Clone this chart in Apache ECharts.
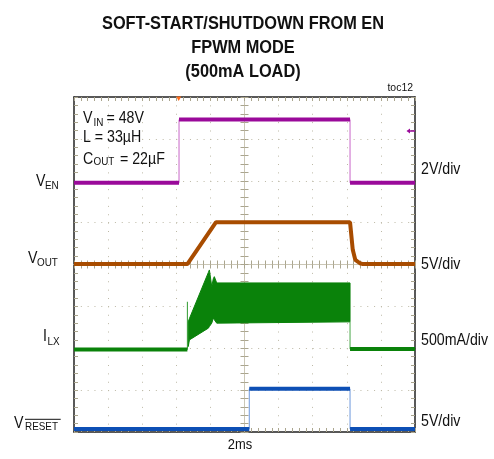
<!DOCTYPE html>
<html>
<head>
    <meta charset="UTF-8">
    <title>Soft-start/shutdown from EN</title>
    <script src="https://cdn.jsdelivr.net/npm/echarts@6/dist/echarts.min.js"></script>
    <style>
        body { margin: 0; padding: 0; background: #fff; }
        #chart { width: 494px; height: 459px; }
    </style>
</head>
<body>
<div id="chart"></div>
<script>
    // time in ms (2ms/div, 10 div), level in divisions (8 div)
    var enT = [0, 6.16, 6.16, 16.19, 16.19, 20];
    var enV = [5.95, 5.95, 7.46, 7.46, 5.95, 5.95];

    var outT = [0, 6.65, 8.33, 16.19, 16.35, 16.50, 16.77, 16.95, 20];
    var outV = [4.01, 4.01, 5.01, 5.01, 4.35, 4.11, 4.03, 4.01, 4.01];

    var resetT = [0, 10.28, 10.28, 16.19, 16.19, 20];
    var resetV = [0.07, 0.07, 1.03, 1.03, 0.07, 0.07];

    // inductor current: idle level, start spike, switching envelope, shutdown
    var ilxStartT = [0, 6.65, 6.65];
    var ilxStartV = [1.97, 1.97, 3.11];
    var ilxBandT = [6.70, 6.77, 7.88, 7.94, 8.08, 8.17, 8.23, 8.37, 16.19];
    var ilxBandHi = [2.63, 2.71, 3.81, 3.87, 3.47, 3.66, 3.71, 3.56, 3.56];
    var ilxBandLo = [2.04, 2.20, 2.48, 2.52, 2.60, 2.72, 2.68, 2.60, 2.63];
    var ilxEndT = [16.19, 16.19, 20];
    var ilxEndV = [2.63, 1.98, 1.98];

    var chart = echarts.init(document.getElementById('chart'));

    function pts(ts, vs) {
        return ts.map(function (t, i) { return [t, vs[i]]; });
    }
    // same trace but with the vertical edges left out (they are drawn thin)
    function flats(ts, vs) {
        var out = [];
        for (var i = 0; i < ts.length; i++) {
            if (i > 0 && ts[i] === ts[i - 1]) out.push([ts[i], null]);
            out.push([ts[i], vs[i]]);
        }
        return out;
    }
    function trace(ts, vs, color, edge) {
        return [
            {type: 'line', data: pts(ts, vs), symbol: 'none', lineStyle: {color: edge, width: 1}, z: 3},
            {type: 'line', data: flats(ts, vs), symbol: 'none', lineStyle: {color: color, width: 4}, z: 4}
        ];
    }

    var FONT = '"Liberation Sans", Arial, sans-serif';
    var tickCol = '#aaa58e';

    function frameX(pos, split) {
        return {
            type: 'value', gridIndex: 0, min: 0, max: 20, interval: 2, position: pos,
            axisLine: {show: true, onZero: false, lineStyle: {color: '#222', width: 1.5}},
            axisTick: {show: true, inside: true, length: 4, lineStyle: {color: tickCol}},
            minorTick: {show: true, splitNumber: 5, length: 4, lineStyle: {color: tickCol}},
            axisLabel: {show: false},
            splitLine: {show: split, lineStyle: {color: '#bdb9a6', width: 1, type: [1, 7.375]}}
        };
    }
    function frameY(pos, split) {
        return {
            type: 'value', gridIndex: 0, min: 0, max: 8, interval: 1, position: pos,
            axisLine: {show: true, onZero: false, lineStyle: {color: '#222', width: 1.5}},
            axisTick: {show: true, inside: true, length: 4, lineStyle: {color: tickCol}},
            minorTick: {show: true, splitNumber: 5, length: 4, lineStyle: {color: tickCol}},
            axisLabel: {show: false},
            splitLine: {show: split, lineStyle: {color: '#bdb9a6', width: 1, type: [1, 5.82]}}
        };
    }
    function centerX(grid, inside) {
        return {
            type: 'value', gridIndex: grid, min: 0, max: 20, interval: 2,
            axisLine: {show: true, onZero: true, lineStyle: {color: '#cbc7b6', width: 1}},
            axisTick: {show: true, inside: inside, length: 4, lineStyle: {color: tickCol}},
            minorTick: {show: true, splitNumber: 5, length: 4, lineStyle: {color: tickCol}},
            axisLabel: {show: false}, splitLine: {show: false}
        };
    }
    function centerY(grid, inside) {
        return {
            type: 'value', gridIndex: grid, min: 0, max: 8, interval: 1,
            axisLine: {show: true, onZero: true, lineStyle: {color: '#cbc7b6', width: 1}},
            axisTick: {show: true, inside: inside, length: 4, lineStyle: {color: tickCol}},
            minorTick: {show: true, splitNumber: 5, length: 4, lineStyle: {color: tickCol}},
            axisLabel: {show: false}, splitLine: {show: false}
        };
    }
    function hidden(grid) {
        return {type: 'value', gridIndex: grid, min: -1, max: 1, show: false};
    }

    function txt(s, x, y, size, opts) {
        opts = opts || {};
        return {
            type: 'text', x: x, y: y, scaleX: opts.sx || 0.86, z: 10,
            style: {
                text: s, fill: '#111',
                font: (opts.bold ? 'bold ' : '') + size + 'px ' + FONT,
                align: opts.align || 'left', verticalAlign: 'middle'
            }
        };
    }

    var gr = {left: 74, right: 79, top: 97, bottom: 27};

    var series = [].concat(
        trace(enT, enV, '#9a0a9a', '#c866c8'),
        trace(outT, outV, '#a84c00', '#b8651e'),
        trace(resetT, resetV, '#0d4fb5', '#6d98dc'),
        trace(ilxStartT, ilxStartV, '#0a820a', '#2f9a2f'),
        trace(ilxEndT, ilxEndV, '#0a820a', '#4aa84a'),
        [{
            type: 'custom',
            data: ilxBandT.map(function (t, i) { return [t, ilxBandHi[i], ilxBandLo[i]]; }),
            renderItem: function (params, api) {
                if (params.dataIndex !== 0) return;
                var poly = [];
                for (var i = 0; i < ilxBandT.length; i++) poly.push(api.coord([ilxBandT[i], ilxBandHi[i]]));
                for (var j = ilxBandT.length - 1; j >= 0; j--) poly.push(api.coord([ilxBandT[j], ilxBandLo[j]]));
                return {type: 'polygon', shape: {points: poly}, style: {fill: '#0a820a', stroke: '#0a820a', lineWidth: 1}};
            },
            z: 3
        }]
    );

    var option = {
        animation: false,
        backgroundColor: '#fff',
        grid: [gr, gr, gr, gr, gr],
        xAxis: [frameX('bottom', true), frameX('top', false), centerX(1, true), centerX(2, false), hidden(3), hidden(4)],
        yAxis: [frameY('left', true), frameY('right', false), hidden(1), hidden(2), centerY(3, true), centerY(4, false)],
        series: series,
        graphic: [
            txt('SOFT-START/SHUTDOWN FROM EN', 243, 24, 19, {bold: true, align: 'center'}),
            txt('FPWM MODE', 243, 48, 19, {bold: true, align: 'center'}),
            txt('(500mA LOAD)', 243, 72, 19, {bold: true, align: 'center'}),
            txt('toc12', 413, 88, 11, {align: 'right', sx: 0.95}),

            txt('V', 83, 118, 16.5),
            txt('IN', 93.5, 122.5, 11.5),
            txt('= 48V', 106.5, 118, 16.5),
            txt('L = 33\u00b5H', 83, 137.5, 16.5),
            txt('C', 83, 159, 16.5),
            txt('OUT', 93.5, 162, 11.5),
            txt('= 22\u00b5F', 120, 159, 16.5),

            txt('V', 36, 181, 16.5),
            txt('EN', 45, 186, 11.5),
            txt('V', 28, 258, 16.5),
            txt('OUT', 37, 262.5, 11.5),
            txt('I', 43, 336.5, 16.5),
            txt('LX', 47.5, 341.5, 11.5),
            txt('V', 14, 423, 16.5),
            txt('RESET', 25, 427, 11.5),
            {type: 'line', z: 10, shape: {x1: 25, y1: 419.3, x2: 60.7, y2: 419.3}, style: {stroke: '#111', lineWidth: 1}},

            txt('2V/div', 421, 169, 16.5),
            txt('5V/div', 421, 264, 16.5),
            txt('500mA/div', 421, 340.5, 16.5),
            txt('5V/div', 421, 421, 16.5),
            txt('2ms', 240, 445, 15, {align: 'center'}),

            {type: 'polygon', z: 10, shape: {points: [[176.2, 96.5], [181.2, 96.5], [178.7, 101]]}, style: {fill: '#ff6a1a'}},
            {type: 'line', z: 10, shape: {x1: 408, y1: 131, x2: 415, y2: 131}, style: {stroke: '#9a0a9a', lineWidth: 1.5}},
            {type: 'polygon', z: 10, shape: {points: [[406.5, 131], [410, 128.5], [410, 133.5]]}, style: {fill: '#9a0a9a'}}
        ]
    };
    chart.setOption(option);
</script>
</body>
</html>
